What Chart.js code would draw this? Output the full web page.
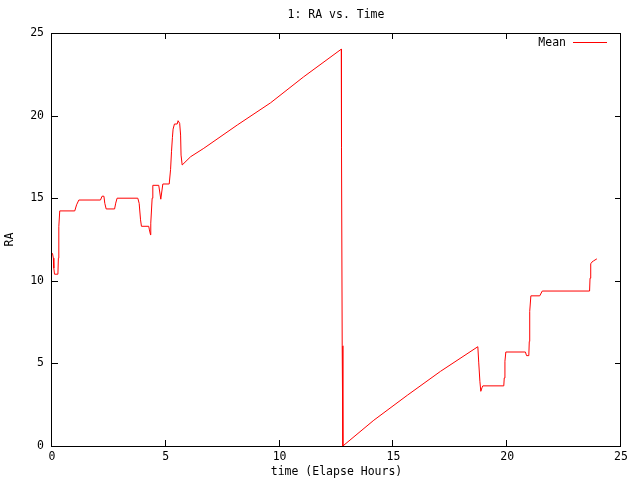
<!DOCTYPE html>
<html>
<head>
<meta charset="utf-8">
<script src="https://cdn.jsdelivr.net/npm/chart.js@4/dist/chart.umd.min.js"></script>
<style>
  html, body { margin: 0; padding: 0; background: #fff; }
  #wrap { width: 640px; height: 480px; }
</style>
</head>
<body>
<div id="wrap"><canvas id="plot" width="640" height="480"></canvas></div>
<script>
// --- DATA ---
const chartTitle = '1: RA vs. Time';
const seriesName = 'Mean';
const xTitle = 'time (Elapse Hours)';
const yTitle = 'RA';
const xTicks = [0, 5, 10, 15, 20, 25];
const yTicks = [0, 5, 10, 15, 20, 25];

const hours = [
  0.02, 0.06, 0.08, 0.11, 0.26, 0.28, 0.30, 0.34, 1.00, 1.08, 1.18,
  2.13, 2.20, 2.28, 2.32, 2.38, 2.75, 2.80, 2.86, 3.77, 3.83, 3.89, 3.93,
  4.25, 4.28, 4.33, 4.34, 4.40, 4.43, 4.69, 4.78, 4.87, 5.15, 5.21, 5.25,
  5.29, 5.32, 5.38, 5.50, 5.54, 5.61, 5.65, 5.67, 5.72, 6.09, 6.67, 8.14,
  9.60, 11.06, 12.71, 12.72, 12.75, 12.78, 14.14, 15.61, 17.07, 18.71,
  18.75, 18.80, 18.84, 18.89, 18.93, 19.85, 19.87, 19.90, 19.94, 20.80,
  20.85, 20.95, 20.97, 20.99, 21.04, 21.43, 21.54, 23.62, 23.64, 23.67,
  23.72, 23.80, 23.94
];
const meanRA = [
  11.67, 11.37, 10.77, 10.40, 10.40, 11.37, 13.28, 14.23, 14.23, 14.60, 14.89,
  14.89, 15.12, 15.12, 14.69, 14.35, 14.35, 14.70, 15.00, 15.00, 14.69, 13.69, 13.30,
  13.30, 13.08, 12.78, 13.49, 15.00, 15.78, 15.78, 14.94, 15.86, 15.86, 16.75, 17.81,
  18.66, 19.18, 19.49, 19.49, 19.69, 19.53, 18.82, 17.61, 17.01, 17.51, 18.02, 19.43,
  20.77, 22.35, 24.02, 18.08, 6.07, 0.00, 1.56, 3.07, 4.52, 6.01,
  5.03, 3.92, 3.31, 3.52, 3.64, 3.64, 4.12, 5.13, 5.69, 5.69,
  5.47, 5.47, 6.33, 8.15, 9.09, 9.09, 9.38, 9.38, 10.16, 11.03,
  11.13, 11.21, 11.33
];

const FONT = 'DejaVu Sans Mono';

// gnuplot-ish frame: box, inward ticks on all sides, title and key
const framePlugin = {
  id: 'frame',
  afterDraw(chart) {
    const { ctx, chartArea: a, scales: { x, y } } = chart;
    const tl = 6;
    ctx.save();
    ctx.strokeStyle = '#000';
    ctx.lineWidth = 1;
    ctx.strokeRect(a.left - 0.5, a.top + 0.5, a.right - a.left, a.bottom - a.top);
    ctx.beginPath();
    xTicks.forEach(v => {
      const px = Math.round(x.getPixelForValue(v)) - 0.5;
      ctx.moveTo(px, a.bottom); ctx.lineTo(px, a.bottom - tl);
      ctx.moveTo(px, a.top); ctx.lineTo(px, a.top + tl);
    });
    yTicks.forEach(v => {
      const py = Math.round(y.getPixelForValue(v)) + 0.5;
      ctx.moveTo(a.left, py); ctx.lineTo(a.left + tl, py);
      ctx.moveTo(a.right, py); ctx.lineTo(a.right - tl, py);
    });
    ctx.stroke();

    ctx.fillStyle = '#000';
    ctx.font = `11.5px "${FONT}"`;
    ctx.textBaseline = 'middle';
    ctx.textAlign = 'center';
    ctx.fillText(chartTitle, 336, 15);

    // key
    ctx.textAlign = 'right';
    ctx.fillText(seriesName, 566, 43);
    ctx.strokeStyle = '#ff0000';
    ctx.beginPath();
    ctx.moveTo(573, 42.5); ctx.lineTo(607, 42.5);
    ctx.stroke();
    ctx.restore();
  }
};

const axisFont = { family: FONT, size: 11.5 };

new Chart(document.getElementById('plot'), {
  type: 'line',
  data: {
    datasets: [{
      label: seriesName,
      data: hours.map((h, i) => ({ x: h, y: meanRA[i] })),
      borderColor: '#ff0000',
      borderWidth: 1,
      pointRadius: 0,
      tension: 0,
      fill: false
    }]
  },
  options: {
    responsive: false,
    animation: false,
    layout: { padding: { top: 33, right: 19, bottom: 0, left: 0 } },
    plugins: { legend: { display: false }, title: { display: false }, tooltip: { enabled: false } },
    scales: {
      x: {
        type: 'linear', min: 0, max: 25,
        afterBuildTicks: s => { s.ticks = xTicks.map(v => ({ value: v })); },
        afterFit: s => { s.height = 34; },
        grid: { display: false, drawTicks: false },
        border: { display: false },
        ticks: { color: '#000', font: axisFont, padding: 4, maxRotation: 0 },
        title: { display: true, text: xTitle, color: '#000', font: axisFont, padding: { top: 0, bottom: 1 } }
      },
      y: {
        type: 'linear', min: 0, max: 25,
        afterBuildTicks: s => { s.ticks = yTicks.map(v => ({ value: v })); },
        afterFit: s => { s.width = 52; },
        grid: { display: false, drawTicks: false },
        border: { display: false },
        ticks: { color: '#000', font: axisFont, padding: 8 },
        title: { display: true, text: yTitle, color: '#000', font: axisFont, padding: { top: 3, bottom: 0 } }
      }
    }
  },
  plugins: [framePlugin]
});
</script>
</body>
</html>
